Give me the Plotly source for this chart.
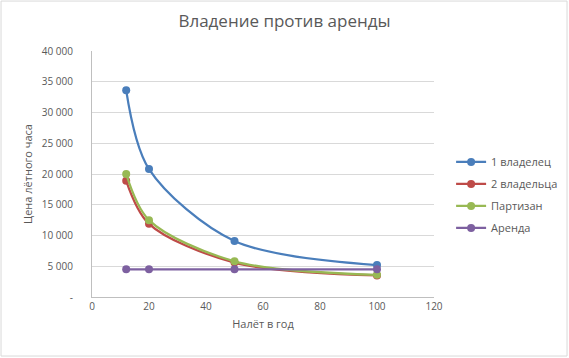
import plotly.graph_objects as go

x_vals = [12, 20, 50, 100]
owner1 = [33600, 20800, 9100, 5200]
owner2 = [18900, 11900, 5600, 3500]
partisan = [20000, 12500, 5800, 3600]
rent = [4500, 4500, 4500, 4500]

series_names = ["1 владелец", "2 владельца", "Партизан", "Аренда"]
series_vals = [owner1, owner2, partisan, rent]
colors = ["#4a7ebb", "#be4b48", "#98b954", "#7d60a0"]

y_tickvals = [0, 5000, 10000, 15000, 20000, 25000, 30000, 35000, 40000]
y_ticktext = ["-", "5 000", "10 000", "15 000", "20 000", "25 000", "30 000", "35 000", "40 000"]
x_tickvals = [0, 20, 40, 60, 80, 100, 120]

fig = go.Figure()
for i, (name, vals, c) in enumerate(zip(series_names, series_vals, colors)):
    fig.add_trace(go.Scatter(
        x=x_vals, y=vals, name=name, mode="lines+markers", legendgroup=f"g{i}",
        line=dict(color=c, width=2.25, shape="spline", smoothing=0.9),
        marker=dict(color=c, size=8),
    ))

fig.update_layout(
    width=569, height=358,
    margin=dict(l=92, r=135, t=51, b=61, autoexpand=False),
    paper_bgcolor="white", plot_bgcolor="white",
    font=dict(family="Open Sans, Liberation Sans, sans-serif", size=10, color="#595959"),
    title=dict(text="Владение против аренды", x=0.5, xanchor="center", y=0.94, yanchor="middle",
               yref="container", automargin=False,
               font=dict(size=17, color="#595959")),
    xaxis=dict(range=[0, 120], tickvals=x_tickvals, showgrid=False, zeroline=False,
               showline=True, linecolor="#bfbfbf", linewidth=1, ticks="", automargin=False,
               title=dict(text="Налёт в год", font=dict(size=11), standoff=8)),
    yaxis=dict(range=[0, 40000], tickvals=y_tickvals, ticktext=y_ticktext,
               showgrid=True, gridcolor="#d9d9d9", gridwidth=1, zeroline=False,
               showline=True, linecolor="#bfbfbf", linewidth=1, ticks="", automargin=False,
               ticklabelstandoff=16,
               title=dict(text="Цена лётного часа", font=dict(size=11), standoff=6)),
    legend=dict(x=1.05, xanchor="left", y=0.415, yanchor="middle", font=dict(size=11),
                itemwidth=30, traceorder="grouped", tracegroupgap=3),
    shapes=[dict(type="rect", xref="paper", yref="paper", x0=-0.266, x1=1.389, y0=-0.240, y1=1.203,
                 line=dict(color="#d9d9d9", width=1))],
)

fig.write_html("out.html", config={"displayModeBar": False},
               post_script="document.body.style.margin='0';")
